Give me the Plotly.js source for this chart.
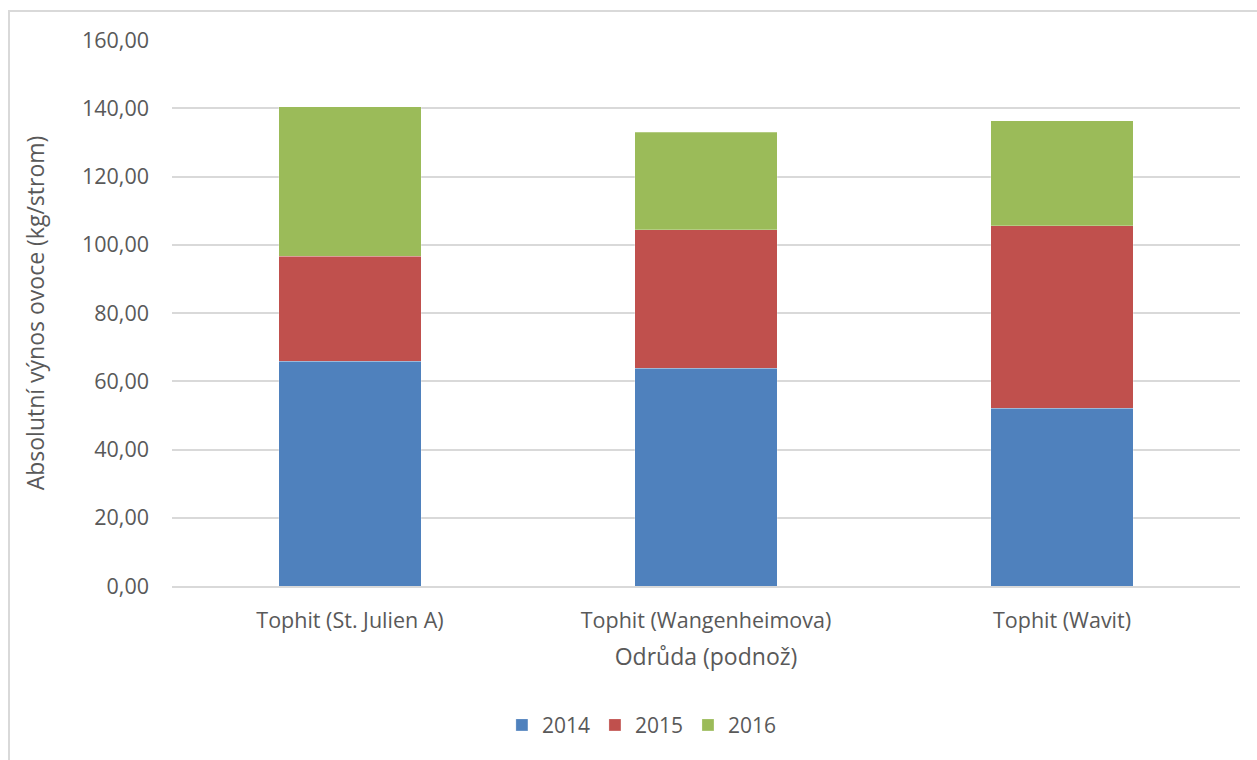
<!DOCTYPE html>
<html>
<head>
<meta charset="utf-8">
<script src="https://cdn.plot.ly/plotly-3.0.1.min.js"></script>
<style>
  html, body { margin: 0; padding: 0; background: #fff; overflow: hidden; }
  #chart { width: 1257px; height: 760px; }
  #frame { position: absolute; left: 8px; top: 10px; width: 1300px; height: 800px;
           border: 2px solid #d9d9d9; pointer-events: none; }
</style>
</head>
<body>
<div id="chart"></div>
<div id="frame"></div>
<script>
const categories = ["Tophit (St. Julien A)", "Tophit (Wangenheimova)", "Tophit (Wavit)"];
const years = ["2014", "2015", "2016"];
const values2014 = [65.8, 63.8, 52.1];
const values2015 = [30.8, 40.6, 53.5];
const values2016 = [43.8, 28.5, 30.8];
const yTickVals = [0, 20, 40, 60, 80, 100, 120, 140, 160];
const yTickText = ["0,00", "20,00", "40,00", "60,00", "80,00", "100,00", "120,00", "140,00", "160,00"];
const colors = ["#4f81bd", "#c0504d", "#9bbb59"];
const series = [values2014, values2015, values2016];

const font = "Open Sans, Lato, sans-serif";
const textColor = "#595959";

const traces = series.map((vals, i) => ({
  type: "bar",
  name: years[i],
  x: categories,
  y: vals,
  marker: { color: colors[i], line: { color: "rgba(255,255,255,0.5)", width: 0.5 } },
  hoverinfo: "y+name"
}));

const layout = {
  width: 1257, height: 760,
  barmode: "stack",
  bargap: 0.6,
  paper_bgcolor: "#fff",
  plot_bgcolor: "#fff",
  margin: { l: 172, r: 17, t: 40, b: 174 },
  font: { family: font, color: textColor, size: 21 },
  xaxis: {
    showgrid: false,
    showline: true, linecolor: "#d9d9d9", linewidth: 1.5,
    ticks: "", tickfont: { size: 21.5, color: textColor },
    ticklabelstandoff: 14,
    automargin: false,
    title: { text: "Odrůda (podnož)", font: { size: 23, color: textColor }, standoff: 16 }
  },
  yaxis: {
    range: [0, 160],
    tickvals: yTickVals, ticktext: yTickText,
    showgrid: true, gridcolor: "#d9d9d9", gridwidth: 1.5,
    zeroline: false, showline: false, ticks: "",
    tickfont: { size: 21.5, color: textColor },
    ticklabelstandoff: 22,
    automargin: false,
    title: { text: "Absolutní výnos ovoce (kg/strom)", font: { size: 23, color: textColor }, standoff: 30 }
  },
  legend: {
    orientation: "h", x: 0.44, xanchor: "center", y: -0.255, yanchor: "middle",
    font: { size: 21, color: textColor },
    itemwidth: 30, traceorder: "normal"
  },
  showlegend: true
};

Plotly.newPlot("chart", traces, layout, { displayModeBar: false });
</script>
</body>
</html>
